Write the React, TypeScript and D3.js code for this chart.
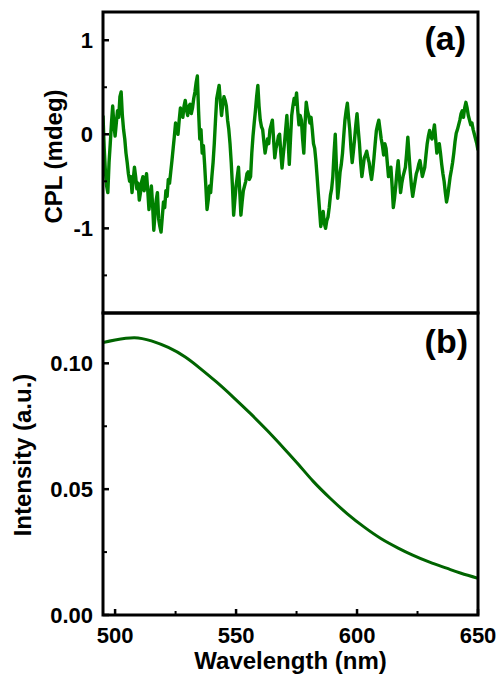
import React from "react";
import * as d3 from "d3";

// CPL spectrum (mdeg), sampled every 0.5 nm from 495 to 650 nm
const cplStart = 495;
const cplEnd = 650;
const cplStep = 0.5;
const cplValues = [
  0.20, -0.15, -0.40, -0.55, -0.62, -0.30, -0.10, 0.12, 0.30, 0.10,
  -0.02, 0.12, 0.25, 0.18, 0.40, 0.45, 0.20, 0.05, -0.05, -0.20,
  -0.30, -0.42, -0.50, -0.45, -0.62, -0.48, -0.35, -0.45, -0.58, -0.52,
  -0.70, -0.62, -0.50, -0.45, -0.60, -0.52, -0.42, -0.60, -0.80, -0.68,
  -0.55, -0.75, -1.02, -0.85, -0.70, -0.62, -0.90, -0.98, -1.04, -0.88,
  -0.72, -0.78, -0.60, -0.66, -0.48, -0.52, -0.40, -0.28, -0.15, -0.02,
  0.12, 0.05, 0.00, 0.15, 0.28, 0.22, 0.18, 0.30, 0.36, 0.26,
  0.20, 0.30, 0.32, 0.22, 0.28, 0.38, 0.45, 0.55, 0.62, 0.25,
  -0.05, 0.05, -0.20, -0.12, -0.32, -0.55, -0.80, -0.70, -0.55, -0.62,
  -0.45, -0.30, -0.10, 0.15, 0.38, 0.45, 0.52, 0.35, 0.20, 0.32,
  0.40, 0.36, 0.30, 0.15, 0.05, -0.10, -0.30, -0.55, -0.86, -0.70,
  -0.55, -0.45, -0.35, -0.60, -0.86, -0.72, -0.60, -0.55, -0.50, -0.42,
  -0.40, -0.48, -0.45, -0.20, -0.02, 0.12, 0.25, 0.40, 0.52, 0.30,
  0.15, 0.08, 0.05, -0.08, -0.20, -0.12, -0.05, -0.10, 0.05, 0.10,
  0.15, -0.05, -0.25, -0.15, -0.10, -0.02, 0.00, -0.20, -0.36, -0.22,
  -0.10, 0.05, 0.20, -0.05, -0.32, -0.05, 0.20, 0.30, 0.38, 0.32,
  0.44, 0.25, 0.10, 0.20, 0.15, -0.05, -0.20, 0.10, 0.34, 0.25,
  0.20, 0.12, 0.18, 0.05, -0.10, -0.15, -0.28, -0.45, -0.63, -0.80,
  -0.98, -0.90, -0.82, -0.95, -1.00, -0.92, -0.88, -0.78, -0.65, -0.58,
  -0.45, -0.20, 0.00, -0.35, -0.68, -0.55, -0.40, -0.32, -0.20, -0.02,
  0.15, 0.25, 0.33, 0.18, 0.05, -0.15, -0.30, -0.18, -0.05, 0.10,
  0.22, 0.05, -0.10, -0.30, -0.45, -0.35, -0.25, -0.22, -0.18, -0.25,
  -0.30, -0.40, -0.48, -0.38, -0.25, -0.10, 0.04, 0.10, 0.15, 0.05,
  -0.05, -0.12, -0.22, -0.10, -0.15, -0.30, -0.45, -0.40, -0.35, -0.55,
  -0.78, -0.68, -0.55, -0.40, -0.28, -0.45, -0.62, -0.52, -0.45, -0.40,
  -0.35, -0.20, -0.03, -0.22, -0.40, -0.55, -0.66, -0.58, -0.50, -0.42,
  -0.38, -0.32, -0.28, -0.36, -0.45, -0.40, -0.35, -0.22, -0.10, -0.02,
  0.04, -0.02, -0.05, 0.02, 0.10, -0.05, -0.20, -0.15, -0.10, -0.20,
  -0.32, -0.42, -0.50, -0.62, -0.72, -0.65, -0.55, -0.45, -0.38, -0.30,
  -0.20, -0.08, 0.01, 0.05, 0.10, 0.15, 0.22, 0.25, 0.18, 0.28,
  0.34, 0.28, 0.20, 0.15, 0.10, 0.12, 0.05, 0.00, -0.05, -0.10,
  -0.17,
];

// PL spectrum (a.u.)
const plWavelengths = [
  495, 500, 508, 515, 522, 529, 535, 542, 549, 556, 563, 570,
  576, 582, 589, 596, 603, 610, 617, 623, 630, 637, 643, 650,
];
const plIntensity = [
  0.1083, 0.1093, 0.1102, 0.1089, 0.1063, 0.1025, 0.0981, 0.0925, 0.0864, 0.0800, 0.0732, 0.0660,
  0.0596, 0.0530, 0.0463, 0.0402, 0.0349, 0.0303, 0.0266, 0.0238, 0.0210, 0.0186, 0.0166, 0.0146,
];

const xMajorTicks = [500, 550, 600, 650];
const xMinorTicks = [525, 575, 625];
const cplMajorTicks = [-1, 0, 1];
const cplMinorTicks = [-1.5, -0.5, 0.5];
const plMajorTicks = [0, 0.05, 0.1];
const plMinorTicks = [0.025, 0.075];

const FONT = "'Liberation Sans', Arial, sans-serif";

export default function App() {
  const left = 103;
  const right = 478;
  const topA = 12;
  const botA = 313;
  const topB = 313;
  const botB = 615;

  const x = d3.scaleLinear().domain([495, 650]).range([left, right]);
  const yA = d3.scaleLinear().domain([-1.9, 1.3]).range([botA, topA]);
  const yB = d3.scaleLinear().domain([0, 0.12]).range([botB, topB]);

  const cplWl = d3.range(cplStart, cplEnd + cplStep / 2, cplStep);
  const cplData = cplWl.map((w, i) => [w, cplValues[i]] as [number, number]);
  const plData = plWavelengths.map((w, i) => [w, plIntensity[i]] as [number, number]);

  const lineA = d3
    .line<[number, number]>()
    .x((d) => x(d[0]))
    .y((d) => yA(d[1]));
  const lineB = d3
    .line<[number, number]>()
    .x((d) => x(d[0]))
    .y((d) => yB(d[1]))
    .curve(d3.curveNatural);

  const tickLabelSize = 22;
  const titleSize = 24;

  return (
    <svg
      width={500}
      height={680}
      style={{ position: "absolute", left: 0, top: 0, background: "#fff" }}
      fontFamily={FONT}
    >
      <defs>
        <clipPath id="clipA">
          <rect x={left} y={topA} width={right - left} height={botA - topA} />
        </clipPath>
        <clipPath id="clipB">
          <rect x={left} y={topB} width={right - left} height={botB - topB} />
        </clipPath>
      </defs>

      {/* Panel (a) */}
      <path
        d={lineA(cplData) || ""}
        fill="none"
        stroke="#008000"
        strokeWidth={3.4}
        strokeLinejoin="round"
        clipPath="url(#clipA)"
      />
      {/* Panel (b) */}
      <path
        d={lineB(plData) || ""}
        fill="none"
        stroke="#006400"
        strokeWidth={3}
        clipPath="url(#clipB)"
      />

      {/* ticks panel a */}
      {cplMajorTicks.map((t) => (
        <line key={"am" + t} x1={left} x2={left + 6} y1={yA(t)} y2={yA(t)} stroke="#000" strokeWidth={2.5} />
      ))}
      {cplMinorTicks.map((t) => (
        <line key={"an" + t} x1={left} x2={left + 4} y1={yA(t)} y2={yA(t)} stroke="#000" strokeWidth={2} />
      ))}
      {cplMajorTicks.map((t) => (
        <text
          key={"al" + t}
          x={93}
          y={yA(t)}
          dy="0.36em"
          textAnchor="end"
          fontSize={tickLabelSize}
          fontWeight="bold"
        >
          {t < 0 ? "-" + Math.abs(t) : String(t)}
        </text>
      ))}

      {/* ticks panel b */}
      {plMajorTicks.map((t) => (
        <line key={"bm" + t} x1={left} x2={left + 6} y1={yB(t)} y2={yB(t)} stroke="#000" strokeWidth={2.5} />
      ))}
      {plMinorTicks.map((t) => (
        <line key={"bn" + t} x1={left} x2={left + 4} y1={yB(t)} y2={yB(t)} stroke="#000" strokeWidth={2} />
      ))}
      {plMajorTicks.map((t) => (
        <text
          key={"bl" + t}
          x={93}
          y={yB(t)}
          dy="0.36em"
          textAnchor="end"
          fontSize={tickLabelSize}
          fontWeight="bold"
        >
          {t.toFixed(2)}
        </text>
      ))}

      {/* x ticks */}
      {xMajorTicks.map((t) => (
        <line key={"xm" + t} x1={x(t)} x2={x(t)} y1={botB} y2={botB - 6} stroke="#000" strokeWidth={2.5} />
      ))}
      {xMinorTicks.map((t) => (
        <line key={"xn" + t} x1={x(t)} x2={x(t)} y1={botB} y2={botB - 4} stroke="#000" strokeWidth={2} />
      ))}
      {xMajorTicks.map((t) => (
        <text key={"xl" + t} x={x(t)} y={643} textAnchor="middle" fontSize={tickLabelSize} fontWeight="bold">
          {t}
        </text>
      ))}

      {/* frames */}
      <rect x={left} y={topA} width={right - left} height={botA - topA} fill="none" stroke="#000" strokeWidth={3} />
      <rect x={left} y={topB} width={right - left} height={botB - topB} fill="none" stroke="#000" strokeWidth={3} />

      {/* titles */}
      <text
        transform={`translate(62, ${(topA + botA) / 2 - 6}) rotate(-90)`}
        textAnchor="middle"
        fontSize={titleSize}
        fontWeight="bold"
      >
        CPL (mdeg)
      </text>
      <text
        transform={`translate(31, ${(topB + botB) / 2 - 9}) rotate(-90)`}
        textAnchor="middle"
        fontSize={titleSize}
        fontWeight="bold"
      >
        Intensity (a.u.)
      </text>
      <text x={(left + right) / 2} y={669} textAnchor="middle" fontSize={titleSize} fontWeight="bold">
        Wavelength (nm)
      </text>

      <text x={466} y={50} textAnchor="end" fontSize={34} fontWeight="bold">
        (a)
      </text>
      <text x={468} y={353} textAnchor="end" fontSize={34} fontWeight="bold">
        (b)
      </text>
    </svg>
  );
}
